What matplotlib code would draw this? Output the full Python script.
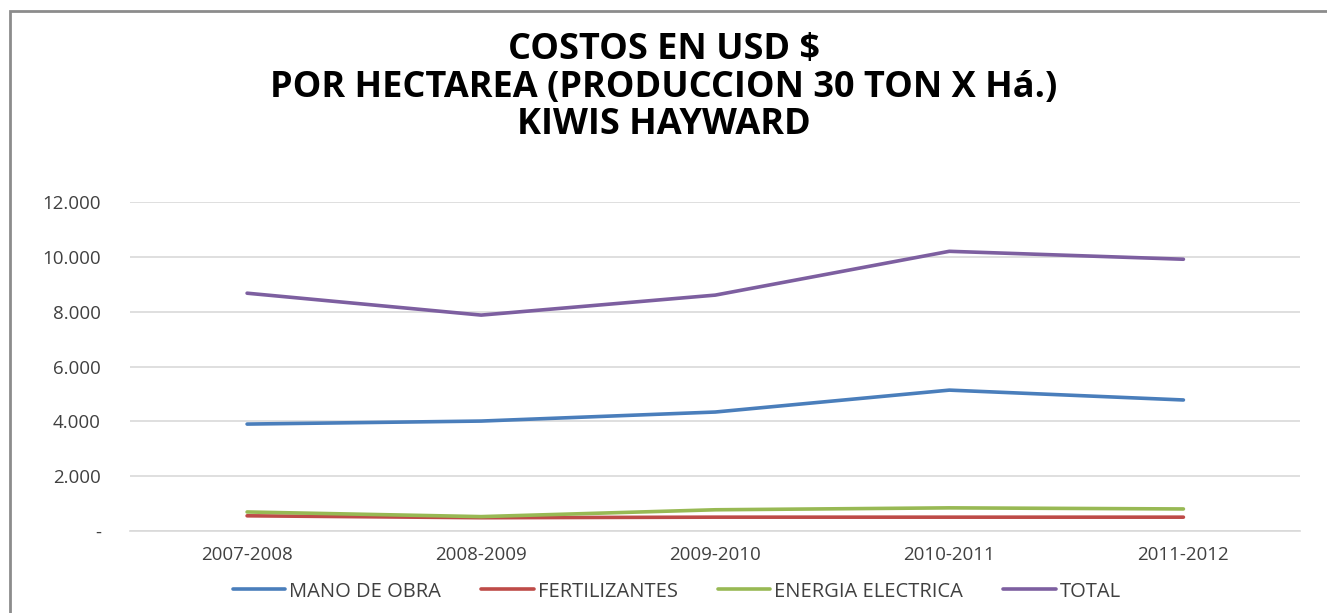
import matplotlib
matplotlib.use("Agg")
import matplotlib.pyplot as plt
from matplotlib.patches import Rectangle

categories = ["2007-2008", "2008-2009", "2009-2010", "2010-2011", "2011-2012"]
mano_de_obra = [3900, 4010, 4340, 5140, 4780]
fertilizantes = [550, 480, 500, 500, 500]
energia_electrica = [690, 520, 770, 840, 800]
total = [8680, 7880, 8610, 10210, 9920]
yticks = [0, 2000, 4000, 6000, 8000, 10000, 12000]
ytick_labels = ["-", "2.000", "4.000", "6.000", "8.000", "10.000", "12.000"]

fig = plt.figure(figsize=(13.27, 6.13), dpi=100)
fig.patches.append(Rectangle((0.0078, -0.01), 1.2, 0.9928, transform=fig.transFigure,
                             fill=False, edgecolor="#8c8c8c", linewidth=2.0))

ax = fig.add_axes([0.098, 0.134, 0.882, 0.536])
x = list(range(len(categories)))
series = [
    (mano_de_obra, "#4a7ebb", "MANO DE OBRA"),
    (fertilizantes, "#be4b48", "FERTILIZANTES"),
    (energia_electrica, "#98b954", "ENERGIA ELECTRICA"),
    (total, "#7d5fa0", "TOTAL"),
]
for vals, col, lab in series:
    ax.plot(x, vals, color=col, linewidth=2.6, label=lab, solid_capstyle="round")

ax.set_xlim(-0.5, 4.5)
ax.set_ylim(0, 12000)
ax.set_yticks(yticks)
ax.set_yticklabels(ytick_labels)
ax.set_xticks(x)
ax.set_xticklabels(categories)
ax.grid(axis="y", color="#d9d9d9", linewidth=1.2)
ax.set_axisbelow(True)
for s in ["top", "right", "left"]:
    ax.spines[s].set_visible(False)
ax.spines["bottom"].set_color("#d9d9d9")
ax.spines["bottom"].set_linewidth(1.2)
ax.tick_params(axis="both", length=0, labelsize=13.5, colors="#404040")
ax.tick_params(axis="y", pad=21)
ax.tick_params(axis="x", pad=11)
for lbl in ax.get_xticklabels() + ax.get_yticklabels():
    lbl.set_family(["Open Sans", "DejaVu Sans"])

fig.text(0.5, 0.857, "COSTOS EN USD $\nPOR HECTAREA (PRODUCCION 30 TON X Há.)\nKIWIS HAYWARD",
         ha="center", va="center", fontsize=26, fontweight="bold",
         family=["Open Sans", "DejaVu Sans"], linespacing=1.05, color="#000000")

leg = fig.legend(loc="center", bbox_to_anchor=(0.51, 0.035), ncol=4, frameon=False,
                 handlelength=2.6, columnspacing=2.0, handletextpad=0.2,
                 prop={"family": ["Open Sans", "DejaVu Sans"], "size": 14.5})
for t in leg.get_texts():
    t.set_color("#404040")

fig.savefig("out.png", dpi=100)
